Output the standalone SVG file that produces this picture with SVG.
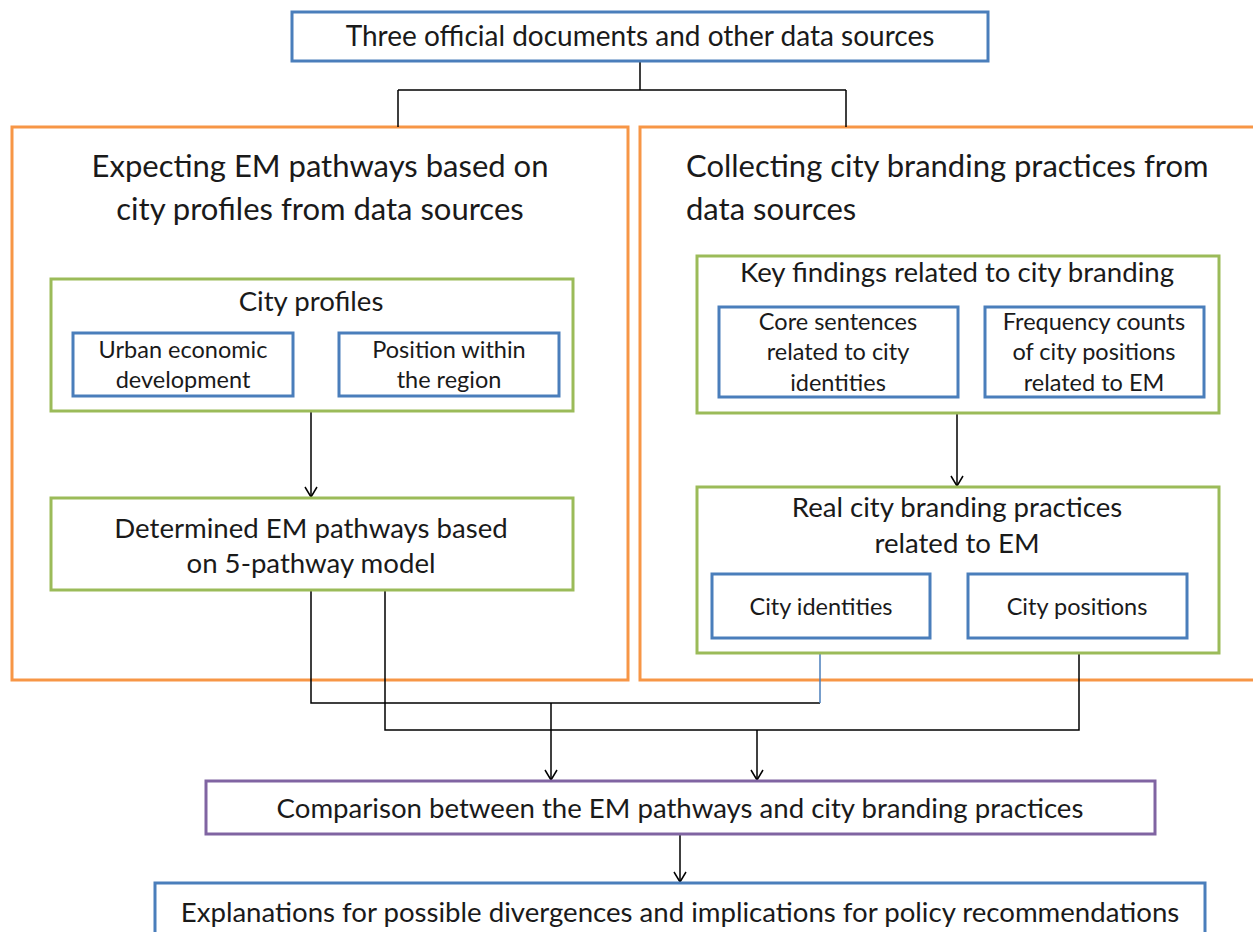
<svg xmlns="http://www.w3.org/2000/svg" width="1253" height="932" viewBox="0 0 1253 932">
<defs>
<style>
text{font-family:Lato,"Open Sans","Liberation Sans",sans-serif;fill:#1a1a1a;text-anchor:middle}
.t30{font-size:31px}
.t27{font-size:27.6px}
.t23{font-size:23.5px}
.blue{fill:#fff;stroke:#4a7ebb;stroke-width:3}
.orange{fill:#fff;stroke:#f79646;stroke-width:3}
.green{fill:#fff;stroke:#9bbb59;stroke-width:3}
.purple{fill:#fff;stroke:#8064a2;stroke-width:3}
.c{fill:none;stroke:#000;stroke-width:1.5}
</style>
<marker id="ah" markerUnits="userSpaceOnUse" markerWidth="14" markerHeight="14" refX="11" refY="7" orient="auto">
<path d="M1,1 L11,7 L1,13" fill="none" stroke="#000" stroke-width="1.5"/>
</marker>
</defs>
<rect width="1253" height="932" fill="#fff"/>

<g id="left-panel">
<rect class="orange" x="12" y="127" width="616" height="553"/>
<text class="t30" x="320" y="177">Expecting EM pathways based on</text>
<text class="t30" x="320" y="220">city profiles from data sources</text>
</g>
<g id="right-panel">
<rect class="orange" x="640" y="127" width="620" height="553"/>
<text class="t30" x="686" y="177" style="text-anchor:start">Collecting city branding practices from</text>
<text class="t30" x="686" y="220" style="text-anchor:start">data sources</text>
</g>

<g id="connectors">
<path class="c" d="M640,61 V90 M398,90 H846 M398,90 V127 M846,90 V127"/>
<path class="c" d="M311,411 V497" marker-end="url(#ah)"/>
<path class="c" d="M957,413 V486" marker-end="url(#ah)"/>
<path class="c" d="M311,590 V703 H820"/>
<path d="M820,638 V703" fill="none" stroke="#4a7ebb" stroke-width="1.5"/>
<path class="c" d="M385,590 V730 H1079 V638"/>
<path class="c" d="M551,703 V780" marker-end="url(#ah)"/>
<path class="c" d="M757,730 V780" marker-end="url(#ah)"/>
<path class="c" d="M680,834 V882" marker-end="url(#ah)"/>
</g>

<g id="sources">
<rect class="blue" x="292" y="12" width="696" height="49"/>
<text class="t27" x="640" y="46" style="font-size:28px">Three official documents and other data sources</text>
</g>

<g id="city-profiles">
<rect class="green" x="51" y="279" width="522" height="132"/>
<text class="t27" x="311" y="311">City profiles</text>
</g>
<g id="urban-economic">
<rect class="blue" x="73" y="333" width="220" height="63"/>
<text class="t23" x="183" y="358">Urban economic</text>
<text class="t23" x="183" y="388">development</text>
</g>
<g id="position-region">
<rect class="blue" x="339" y="333" width="220" height="63"/>
<text class="t23" x="449" y="358">Position within</text>
<text class="t23" x="449" y="388">the region</text>
</g>
<g id="determined">
<rect class="green" x="51" y="498" width="522" height="92"/>
<text class="t27" x="311" y="538">Determined EM pathways based</text>
<text class="t27" x="311" y="573">on 5-pathway model</text>
</g>

<g id="key-findings">
<rect class="green" x="697" y="256" width="522" height="157"/>
<text class="t27" x="957" y="282">Key findings related to city branding</text>
</g>
<g id="core-sentences">
<rect class="blue" x="719" y="307" width="239" height="90"/>
<text class="t23" x="838" y="330">Core sentences</text>
<text class="t23" x="838" y="360">related to city</text>
<text class="t23" x="838" y="391">identities</text>
</g>
<g id="frequency-counts">
<rect class="blue" x="985" y="307" width="219" height="90"/>
<text class="t23" x="1094" y="330">Frequency counts</text>
<text class="t23" x="1094" y="360">of city positions</text>
<text class="t23" x="1094" y="391">related to EM</text>
</g>
<g id="real-practices">
<rect class="green" x="697" y="487" width="522" height="166"/>
<text class="t27" x="957" y="517">Real city branding practices</text>
<text class="t27" x="957" y="553">related to EM</text>
</g>
<g id="city-identities">
<rect class="blue" x="712" y="574" width="218" height="64"/>
<text class="t23" x="821" y="615">City identities</text>
</g>
<g id="city-positions">
<rect class="blue" x="968" y="574" width="219" height="64"/>
<text class="t23" x="1077" y="615">City positions</text>
</g>

<g id="comparison">
<rect class="purple" x="206" y="781" width="949" height="53"/>
<text class="t27" x="680" y="818">Comparison between the EM pathways and city branding practices</text>
</g>
<g id="explanations">
<rect class="blue" x="155" y="883" width="1050" height="60"/>
<text class="t27" x="680" y="922">Explanations for possible divergences and implications for policy recommendations</text>
</g>
</svg>
